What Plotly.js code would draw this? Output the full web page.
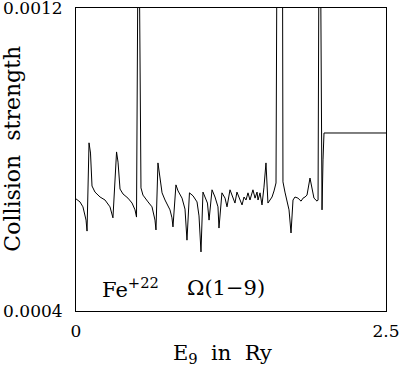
<!DOCTYPE html>
<html>
<head>
<meta charset="utf-8">
<script src="https://cdn.plot.ly/plotly-3.0.1.min.js"></script>
<style>
  body { margin: 0; background: #fff; }
  #chart { width: 400px; height: 369px; }
</style>
</head>
<body>
<div id="chart"></div>
<script>
// energy E9 (Ry) and collision strength
var energy = [
  0, 0.032, 0.056, 0.081, 0.089, 0.105, 0.117, 0.129, 0.153, 0.194,
  0.234, 0.274, 0.298, 0.327, 0.339, 0.355, 0.379, 0.419, 0.452, 0.476,
  0.488, 0.504, 0.524, 0.540, 0.581, 0.613, 0.637, 0.645, 0.661, 0.677,
  0.694, 0.718, 0.758, 0.774, 0.782, 0.806, 0.823, 0.855, 0.879, 0.895,
  0.915, 0.944, 0.976, 0.992, 1.008, 1.024, 1.040, 1.060, 1.073, 1.097,
  1.121, 1.145, 1.153, 1.177, 1.202, 1.218, 1.242, 1.266, 1.282, 1.298,
  1.315, 1.339, 1.355, 1.371, 1.387, 1.403, 1.427, 1.444, 1.460, 1.468,
  1.484, 1.500, 1.516, 1.532, 1.548, 1.581, 1.597, 1.613, 1.621, 1.645,
  1.665, 1.669, 1.685, 1.702, 1.718, 1.734, 1.750, 1.766, 1.790, 1.815,
  1.831, 1.847, 1.863, 1.887, 1.903, 1.919, 1.944, 1.952, 1.964, 1.976,
  1.984, 1.992, 2.0, 2.5
];
var omega = [
  0.000696, 0.000688, 0.000675, 0.000640, 0.000611, 0.000844, 0.000817, 0.000730, 0.000714, 0.000701,
  0.000693, 0.000675, 0.000646, 0.000820, 0.000793, 0.000722, 0.000709, 0.000698, 0.000685, 0.000667,
  0.000648, 0.001600, 0.000725, 0.000706, 0.000688, 0.000675, 0.000640, 0.000614, 0.000791, 0.000756,
  0.000712, 0.000693, 0.000667, 0.000646, 0.000622, 0.000733, 0.000717, 0.000698, 0.000669, 0.000587,
  0.000712, 0.000704, 0.000688, 0.000651, 0.000556, 0.000714, 0.000701, 0.000685, 0.000640, 0.000720,
  0.000701, 0.000675, 0.000619, 0.000712, 0.000698, 0.000675, 0.000720, 0.000701, 0.000685, 0.000714,
  0.000701, 0.000680, 0.000701, 0.000693, 0.000712, 0.000693, 0.000720, 0.000698, 0.000714, 0.000693,
  0.000712, 0.000680, 0.000727, 0.000791, 0.000685, 0.000701, 0.000717, 0.000738, 0.001400, 0.002200,
  0.001400, 0.000741, 0.000714, 0.000693, 0.000667, 0.000606, 0.000693, 0.000701, 0.000698, 0.000690,
  0.000698, 0.000701, 0.000706, 0.000751, 0.000720, 0.000698, 0.000690, 0.000693, 0.001800, 0.000912,
  0.000667, 0.000799, 0.000870, 0.000870
];
var xTicks = [0, 2.5];
var xTickText = ['0', '2.5'];
var yTicks = [0.0004, 0.0012];
var yTickText = ['0.0004', '0.0012'];

var serif = 'DejaVu Serif, Liberation Serif, serif';

var data = [
  {
    x: energy,
    y: omega,
    type: 'scatter',
    mode: 'lines',
    line: { color: '#000', width: 1 },
    hoverinfo: 'none'
  }
];

var layout = {
  width: 400,
  height: 369,
  margin: { l: 76, r: 14, t: 8, b: 58 },
  paper_bgcolor: '#fff',
  plot_bgcolor: '#fff',
  showlegend: false,
  font: { family: serif, color: '#000', size: 17 },
  xaxis: {
    range: [0, 2.5],
    tickvals: xTicks,
    ticktext: xTickText,
    ticks: '',
    ticklabelstandoff: 5,
    ticklabeloverflow: 'allow',
    showgrid: false,
    zeroline: false,
    showline: true,
    mirror: true,
    linecolor: '#000',
    linewidth: 1
  },
  yaxis: {
    range: [0.0004, 0.0012],
    tickvals: yTicks,
    ticktext: yTickText,
    ticks: '',
    ticklabelstandoff: 9,
    ticklabeloverflow: 'allow',
    showgrid: false,
    zeroline: false,
    showline: true,
    mirror: true,
    linecolor: '#000',
    linewidth: 1
  },
  annotations: [
    {
      text: 'Collision  strength',
      textangle: -90,
      xref: 'paper', yref: 'paper',
      x: -0.204, y: 0.535,
      xanchor: 'center', yanchor: 'middle',
      showarrow: false,
      font: { size: 22 }
    },
    {
      text: 'E<sub>9</sub>  in  Ry',
      xref: 'paper', yref: 'paper',
      x: 0.471, y: -0.142,
      xanchor: 'center', yanchor: 'middle',
      showarrow: false,
      font: { size: 21 }
    },
    {
      text: 'Fe<sup>+22</sup>',
      xref: 'x', yref: 'y',
      x: 0.19, y: 0.000462,
      xanchor: 'left', yanchor: 'middle',
      showarrow: false,
      font: { size: 21 }
    },
    {
      text: 'Ω(1−9)',
      xref: 'x', yref: 'y',
      x: 0.875, y: 0.00046,
      xanchor: 'left', yanchor: 'middle',
      showarrow: false,
      font: { size: 21 }
    }
  ]
};

Plotly.newPlot('chart', data, layout, { displayModeBar: false, staticPlot: true });
</script>
</body>
</html>
